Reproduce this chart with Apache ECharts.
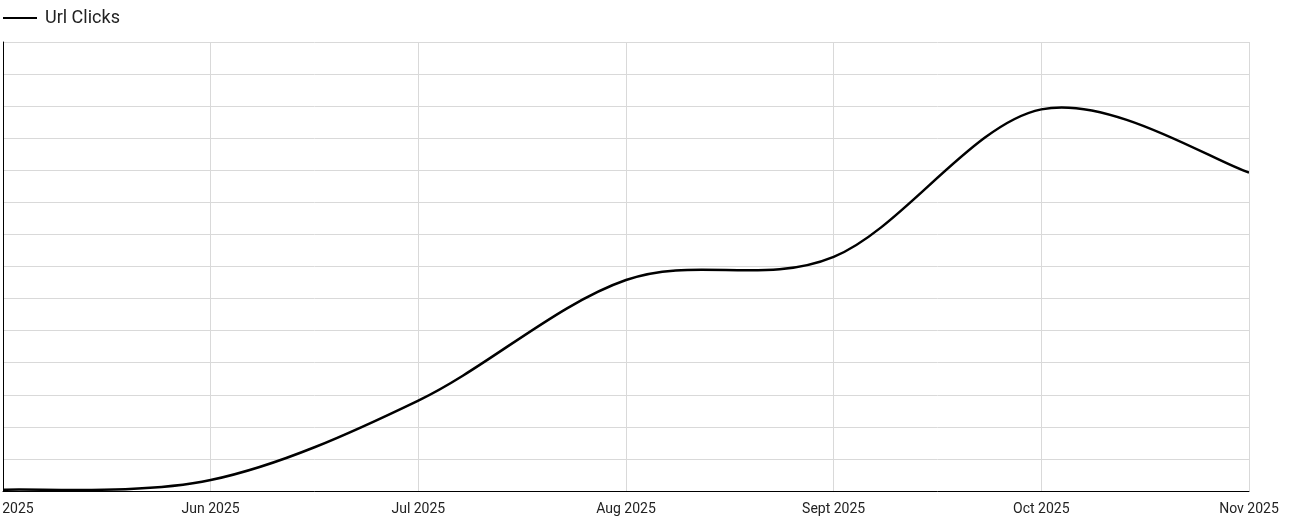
<!DOCTYPE html>
<html>
<head>
<meta charset="utf-8">
<script src="https://cdn.jsdelivr.net/npm/echarts@6/dist/echarts.min.js"></script>
<style>
html,body{margin:0;padding:0;background:#fff;}
#c{width:1294px;height:531px;}
</style>
</head>
<body>
<div id="c"></div>
<script>
const categories = ['May 2025','Jun 2025','Jul 2025','Aug 2025','Sept 2025','Oct 2025','Nov 2025'];
const urlClicks = [4, 34, 282, 658, 730, 1190, 993];
const seriesName = 'Url Clicks';

const chart = echarts.init(document.getElementById('c'), null, {renderer:'canvas'});

function renderCurve(params, api) {
  if (params.dataIndex !== 0) return null;
  const pts = urlClicks.map((v, i) => api.coord([i, v]));
  const n = pts.length;
  const k = 1 / 6;
  let d = 'M' + pts[0][0] + ' ' + pts[0][1];
  for (let i = 0; i < n - 1; i++) {
    const p0 = pts[Math.max(i - 1, 0)];
    const p1 = pts[i];
    const p2 = pts[i + 1];
    const p3 = pts[Math.min(i + 2, n - 1)];
    const c1x = p1[0] + (p2[0] - p0[0]) * k;
    const c1y = p1[1] + (p2[1] - p0[1]) * k;
    const c2x = p2[0] - (p3[0] - p1[0]) * k;
    const c2y = p2[1] - (p3[1] - p1[1]) * k;
    d += ' C' + c1x + ' ' + c1y + ' ' + c2x + ' ' + c2y + ' ' + p2[0] + ' ' + p2[1];
  }
  return {
    type: 'path',
    shape: { pathData: d },
    style: { fill: 'none', stroke: '#000', lineWidth: 2.5, lineJoin: 'round' },
    silent: true
  };
}

chart.setOption({
  animation:false,
  textStyle:{fontFamily:'Roboto'},
  legend:{
    left:-2, top:4,
    icon:'rect', itemWidth:34, itemHeight:2, itemGap:10,
    itemStyle:{color:'#000'},
    textStyle:{fontSize:18, color:'#222', fontFamily:'Roboto', padding:[0,0,0,3]},
    data:[seriesName]
  },
  grid:{left:3, right:45, top:42, bottom:40, containLabel:false, outerBoundsMode:'none'},
  xAxis:{
    type:'category', data:categories, boundaryGap:false,
    axisLine:{show:true, lineStyle:{color:'#000', width:1}},
    axisTick:{show:false},
    axisLabel:{color:'#222', fontSize:14, margin:11, fontFamily:'Roboto', showMinLabel:true, showMaxLabel:true, interval:0, hideOverlap:false},
    splitLine:{show:true, lineStyle:{color:'#d9d9d9', width:1}}
  },
  yAxis:{
    type:'value', min:0, max:1400, interval:100,
    axisLine:{show:true, lineStyle:{color:'#000', width:1}},
    axisTick:{show:false},
    axisLabel:{show:false},
    splitLine:{show:true, lineStyle:{color:'#d9d9d9', width:1}}
  },
  series:[{
    name:seriesName, type:'custom', renderItem:renderCurve,
    data:urlClicks.map((v, i) => [i, v]),
    encode:{x:0, y:1},
    itemStyle:{color:'#000'},
    clip:true
  }]
});
</script>
</body>
</html>
